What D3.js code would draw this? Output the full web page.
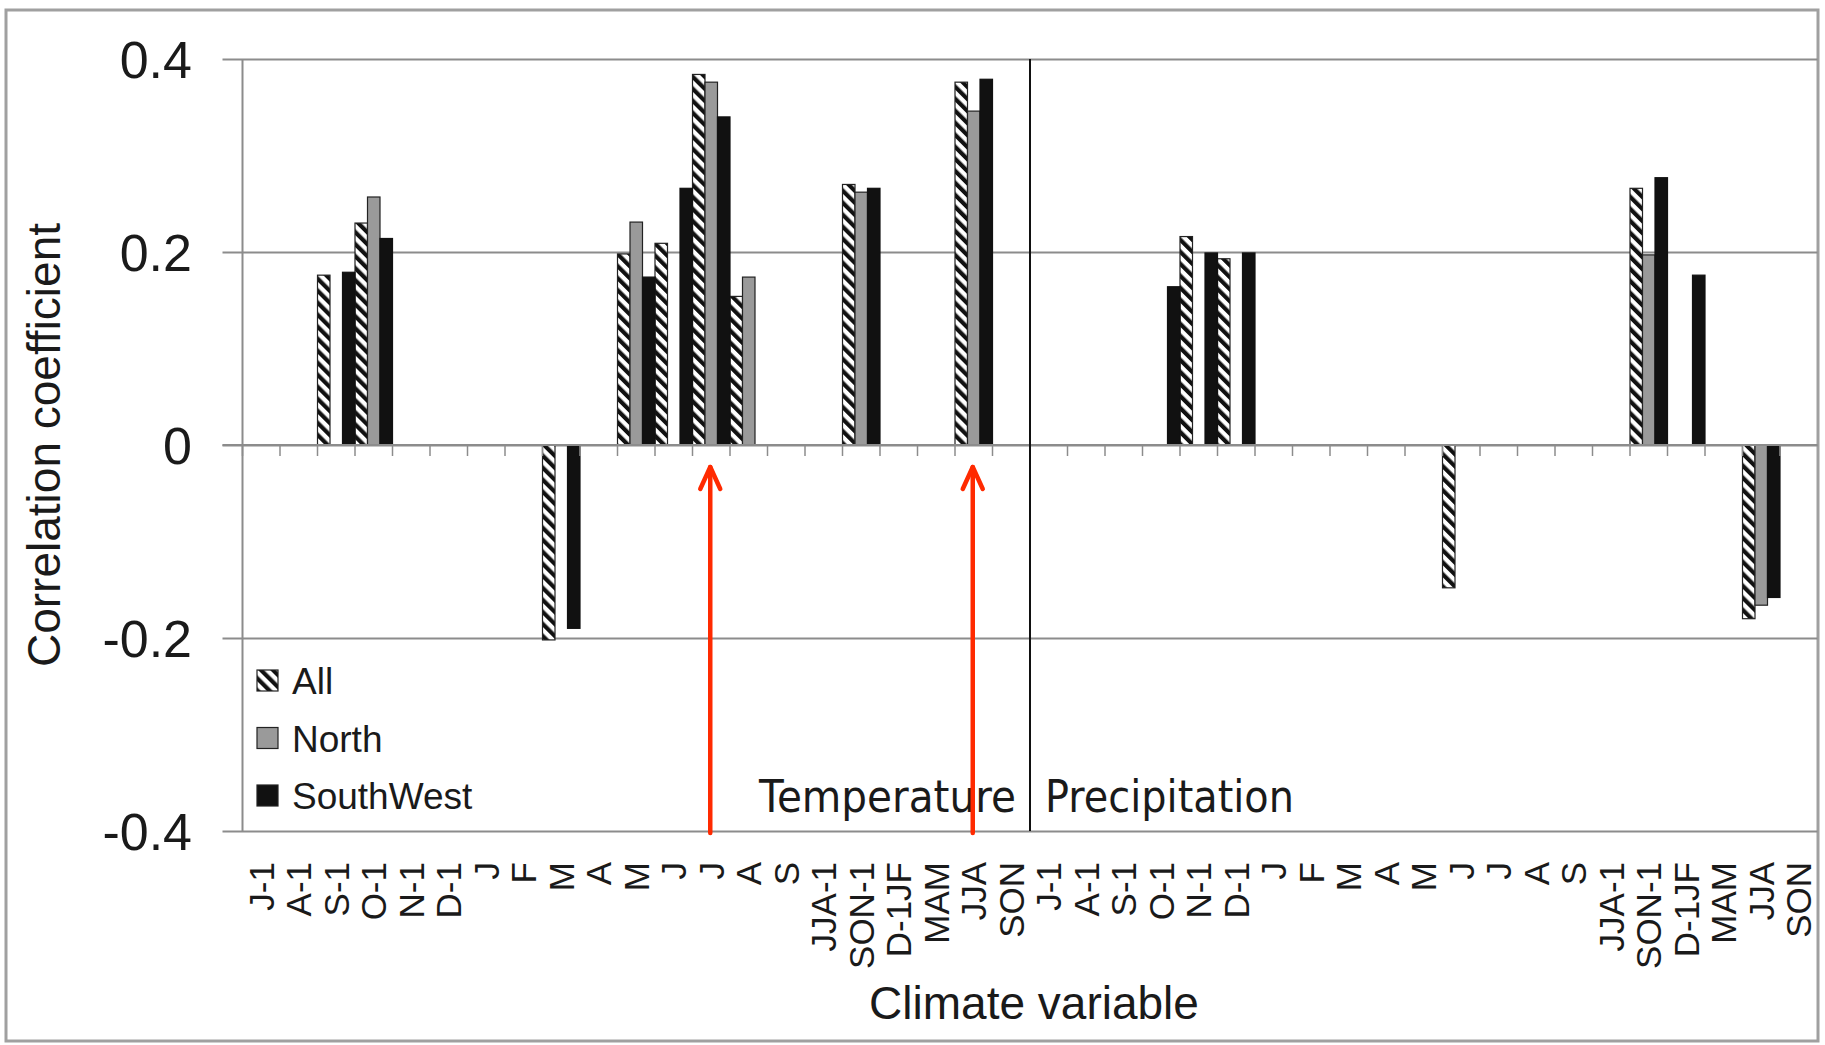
<!DOCTYPE html>
<html>
<head>
<meta charset="utf-8">
<script src="https://cdn.jsdelivr.net/npm/d3@7"></script>
<style>
    body { margin: 0; background: #fff; }
    svg text { font-family: 'Liberation Sans', Arial, sans-serif; fill: #1a1a1a; }
</style>
</head>
<body>
<div id="chart"></div>
<script>
// Category labels: 21 temperature variables followed by 21 precipitation variables
const tempLabels = ['J-1', 'A-1', 'S-1', 'O-1', 'N-1', 'D-1', 'J', 'F', 'M', 'A', 'M', 'J', 'J', 'A', 'S',
    'JJA-1', 'SON-1', 'D-1JF', 'MAM', 'JJA', 'SON'];
const precLabels = ['J-1', 'A-1', 'S-1', 'O-1', 'N-1', 'D-1', 'J', 'F', 'M', 'A', 'M', 'J', 'J', 'A', 'S',
    'JJA-1', 'SON-1', 'D-1JF', 'MAM', 'JJA', 'SON'];

// Only significant correlations are shown, the rest are null
const allTemp = [null, null, 0.176, 0.230, null, null, null, null, -0.202, null, 0.198, 0.209, 0.384, 0.154, null,
    null, 0.270, null, null, 0.376, null];
const northTemp = [null, null, null, 0.257, null, null, null, null, null, null, 0.231, null, 0.376, 0.174, null,
    null, 0.262, null, null, 0.346, null];
const southWestTemp = [null, null, 0.179, 0.214, null, null, null, null, -0.190, null, 0.174, 0.266, 0.340, null, null,
    null, 0.266, null, null, 0.379, null];

const allPrec = [null, null, null, null, 0.216, 0.193, null, null, null, null, null, -0.148, null, null, null,
    null, 0.266, null, null, -0.180, null];
const northPrec = [null, null, null, null, null, null, null, null, null, null, null, null, null, null, null,
    null, 0.197, null, null, -0.166, null];
const southWestPrec = [null, null, null, 0.164, 0.199, 0.199, null, null, null, null, null, null, null, null, null,
    null, 0.277, 0.176, null, -0.158, null];

const seriesNames = ['All', 'North', 'SouthWest'];
const yTicks = [0.4, 0.2, 0, -0.2, -0.4];
const groupNames = ['Temperature', 'Precipitation'];
// categories marked with red arrows (July and JJA temperature)
const arrowTargets = [12, 19];

const labels = tempLabels.concat(precLabels);
const series = [allTemp.concat(allPrec), northTemp.concat(northPrec), southWestTemp.concat(southWestPrec)];

const width = 1825, height = 1045;
const margin = {top: 60, right: 7.5, bottom: 214, left: 242.5};

const svg = d3.select('#chart').append('svg')
    .attr('width', width)
    .attr('height', height);

// hatching for the "All" series
const defs = svg.append('defs');
defs.append('pattern')
    .attr('id', 'hatch')
    .attr('patternUnits', 'userSpaceOnUse')
    .attr('width', 8.5)
    .attr('height', 8.5)
    .attr('patternTransform', 'rotate(-45)')
  .call(p => {
      p.append('rect').attr('width', 8.5).attr('height', 8.5).attr('fill', '#fff');
      p.append('rect').attr('width', 4.2).attr('height', 8.5).attr('fill', '#111');
  });

const fills = ['url(#hatch)', '#9a9a9a', '#111'];

// outer frame
svg.append('rect')
    .attr('x', 6)
    .attr('y', 10)
    .attr('width', 1812)
    .attr('height', 1031)
    .attr('fill', 'none')
    .attr('stroke', '#a0a0a0')
    .attr('stroke-width', 3);

const x = d3.scaleBand()
    .domain(d3.range(labels.length))
    .range([margin.left, width - margin.right])
    .padding(0);

const xSeries = d3.scaleBand()
    .domain(d3.range(series.length))
    .range([0, x.bandwidth()])
    .padding(0);

const y = d3.scaleLinear()
    .domain([-0.4, 0.4])
    .range([height - margin.bottom, margin.top - 1]);

const plotLeft = margin.left, plotRight = width - margin.right;

// gridlines with outside ticks on the left
const grid = svg.append('g')
    .attr('transform', `translate(${plotLeft},0)`)
    .call(d3.axisLeft(y).tickValues(yTicks).tickSize(-(plotRight - plotLeft)).tickFormat(''));
grid.select('.domain').remove();
grid.selectAll('.tick line')
    .attr('x1', -20)
    .attr('stroke', '#8c8c8c')
    .attr('stroke-width', 2);

// y tick labels (plain hyphen for negatives, as in the original)
svg.append('g').selectAll('text')
    .data(yTicks)
  .enter().append('text')
    .attr('x', 192)
    .attr('y', d => y(d))
    .attr('dy', '0.36em')
    .attr('text-anchor', 'end')
    .style('font-size', '52px')
    .text(d => String(d));

// left border of plot
svg.append('line')
    .attr('x1', plotLeft).attr('x2', plotLeft)
    .attr('y1', y(0.4)).attr('y2', y(-0.4))
    .attr('stroke', '#8c8c8c')
    .attr('stroke-width', 2);

// bars
series.forEach((values, s) => {
    svg.append('g').selectAll('rect')
        .data(values.map((v, i) => ({i, v})).filter(d => d.v !== null))
      .enter().append('rect')
        .attr('x', d => x(d.i) + xSeries(s))
        .attr('y', d => y(Math.max(0, d.v)))
        .attr('width', xSeries.bandwidth())
        .attr('height', d => Math.abs(y(d.v) - y(0)))
        .attr('fill', fills[s])
        .attr('stroke', s === 2 ? '#111' : '#222')
        .attr('stroke-width', 1.2);
});

// zero axis with tick marks at category boundaries
const zeroAxis = svg.append('g')
    .attr('transform', `translate(0,${y(0)})`);
zeroAxis.append('line')
    .attr('x1', plotLeft - 20).attr('x2', plotRight)
    .attr('stroke', '#8c8c8c')
    .attr('stroke-width', 2);
zeroAxis.selectAll('line.tick')
    .data(d3.range(labels.length))
  .enter().append('line')
    .attr('class', 'tick')
    .attr('x1', d => x(d)).attr('x2', d => x(d))
    .attr('y1', 0).attr('y2', 11)
    .attr('stroke', '#8c8c8c')
    .attr('stroke-width', 1.5);

// separator between temperature and precipitation
const sepX = x(tempLabels.length);
svg.append('line')
    .attr('x1', sepX).attr('x2', sepX)
    .attr('y1', y(0.4)).attr('y2', y(-0.4))
    .attr('stroke', '#111')
    .attr('stroke-width', 2);

// group names
svg.append('text')
    .attr('x', sepX - 14)
    .attr('y', 812)
    .attr('text-anchor', 'end')
    .attr('textLength', 257)
    .attr('lengthAdjust', 'spacingAndGlyphs')
    .style('font-family', "'DejaVu Sans', sans-serif")
    .style('font-size', '45px')
    .text(groupNames[0]);

svg.append('text')
    .attr('x', sepX + 15)
    .attr('y', 812)
    .attr('textLength', 249)
    .attr('lengthAdjust', 'spacingAndGlyphs')
    .style('font-family', "'DejaVu Sans', sans-serif")
    .style('font-size', '45px')
    .text(groupNames[1]);

// x labels, rotated
svg.append('g').selectAll('text')
    .data(labels)
  .enter().append('text')
    .attr('transform', (d, i) => `translate(${x(i) + x.bandwidth() / 2},862) rotate(-90)`)
    .attr('dy', '0.36em')
    .attr('text-anchor', 'end')
    .style('font-size', '35px')
    .text(d => d);

// axis titles
svg.append('text')
    .attr('x', 1034)
    .attr('y', 1019)
    .attr('text-anchor', 'middle')
    .style('font-size', '46px')
    .text('Climate variable');

svg.append('text')
    .attr('transform', `translate(60,${y(0)}) rotate(-90)`)
    .attr('text-anchor', 'middle')
    .style('font-size', '46px')
    .text('Correlation coefficient');

// legend
const legend = svg.append('g').selectAll('g')
    .data(seriesNames)
  .enter().append('g')
    .attr('transform', (d, i) => `translate(257,${681 + i * 57.5})`);

legend.append('rect')
    .attr('x', 0)
    .attr('y', -11)
    .attr('width', 21)
    .attr('height', 21)
    .attr('fill', (d, i) => fills[i])
    .attr('stroke', '#222')
    .attr('stroke-width', 1.2);

legend.append('text')
    .attr('x', 35)
    .attr('dy', '0.36em')
    .style('font-size', '37px')
    .text(d => d);

// red arrows
const arrows = svg.append('g')
    .attr('stroke', '#ff2a00')
    .attr('stroke-width', 4.5)
    .attr('stroke-linecap', 'round')
    .attr('stroke-linejoin', 'round')
    .attr('fill', 'none');

arrowTargets.forEach(i => {
    const ax = x(i) + x.bandwidth() / 2 - 1;
    const tip = y(0) + 22;
    arrows.append('line')
        .attr('x1', ax).attr('x2', ax)
        .attr('y1', tip).attr('y2', y(-0.4) + 2);
    arrows.append('path')
        .attr('d', `M${ax - 10},${tip + 22} L${ax},${tip} L${ax + 10},${tip + 22}`);
});
</script>
</body>
</html>
